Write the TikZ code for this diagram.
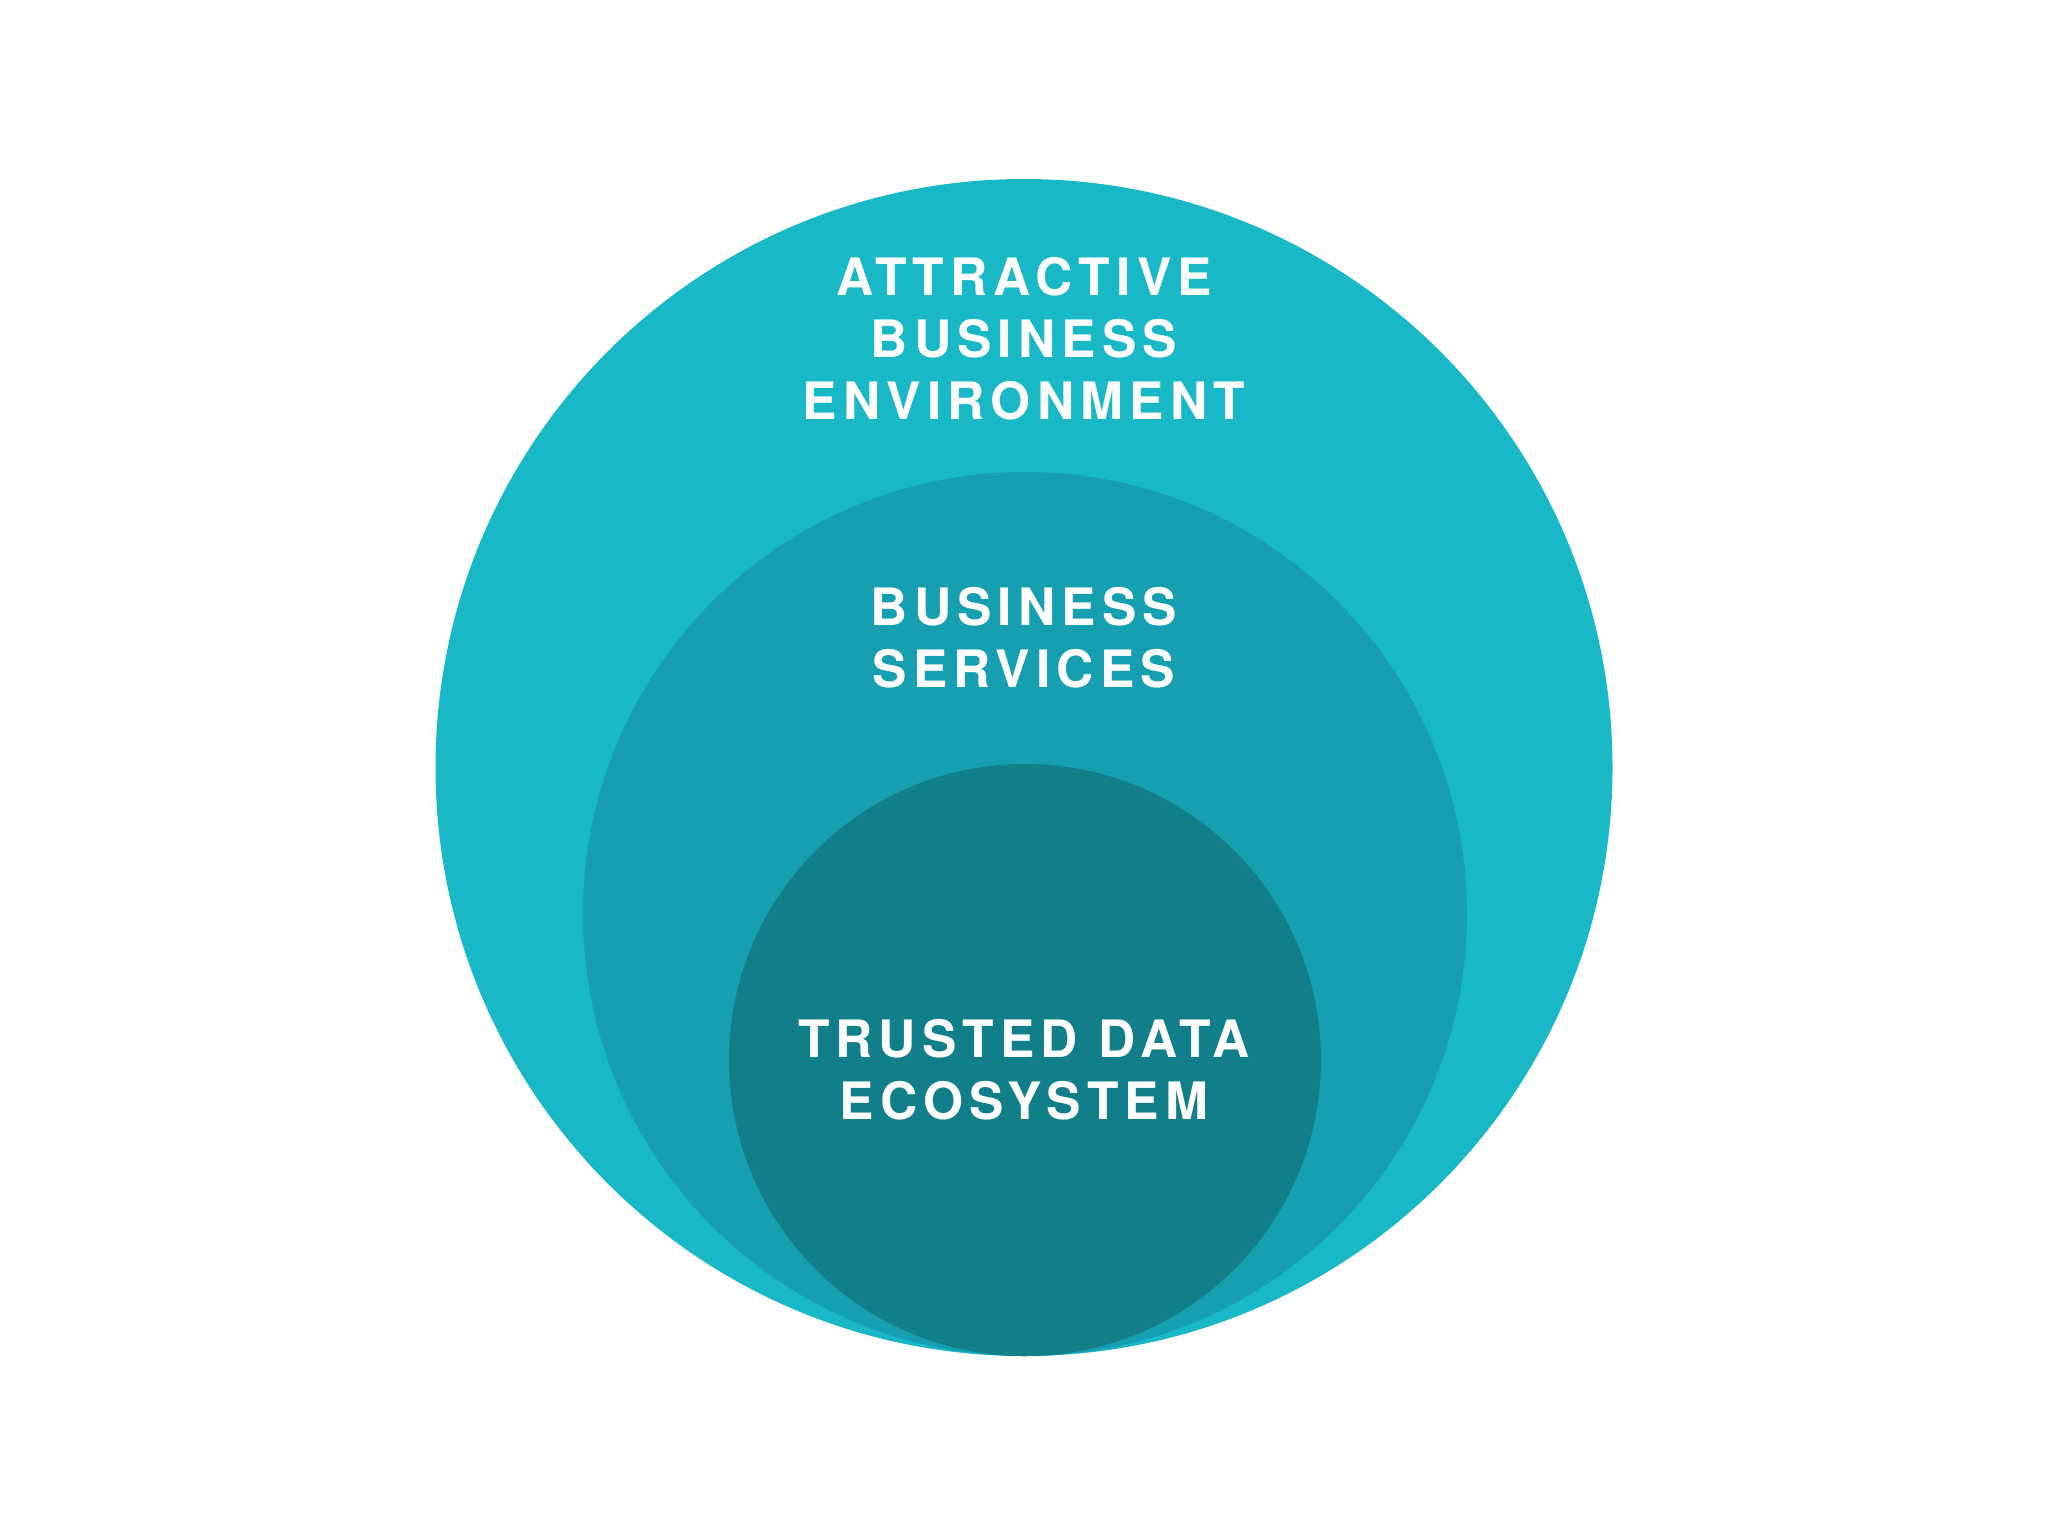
\documentclass[tikz,border=0pt]{standalone}
\usepackage{fontspec}
\setmainfont{TeX Gyre Heros}[LetterSpace=12]
\definecolor{outerc}{HTML}{18B8C7}
\definecolor{midc}{HTML}{159FB0}
\definecolor{innerc}{HTML}{107F8A}
\begin{document}
\begin{tikzpicture}[x=0.01cm,y=-0.01cm,
  lbl/.style={text=white,font=\bfseries\fontsize{14.65}{17.64}\selectfont,align=center,inner sep=0pt}]
\useasboundingbox[fill=white] (0,0) rectangle (2048,1536);
\fill[outerc] (1024,767.5) circle[radius=588.5];
\fill[midc] (1025,914) circle[radius=442];
\fill[innerc] (1025,1060) circle[radius=296];
\node[lbl] (outerlbl) at (1024,339) {ATTRACTIVE\\BUSINESS\\ENVIRONMENT};
\node[lbl] (midlbl) at (1024,637.5) {BUSINESS\\SERVICES};
\node[lbl] (innerlbl) at (1024,1069.5) {TRUSTED DATA\\ECOSYSTEM};
\end{tikzpicture}
\end{document}
